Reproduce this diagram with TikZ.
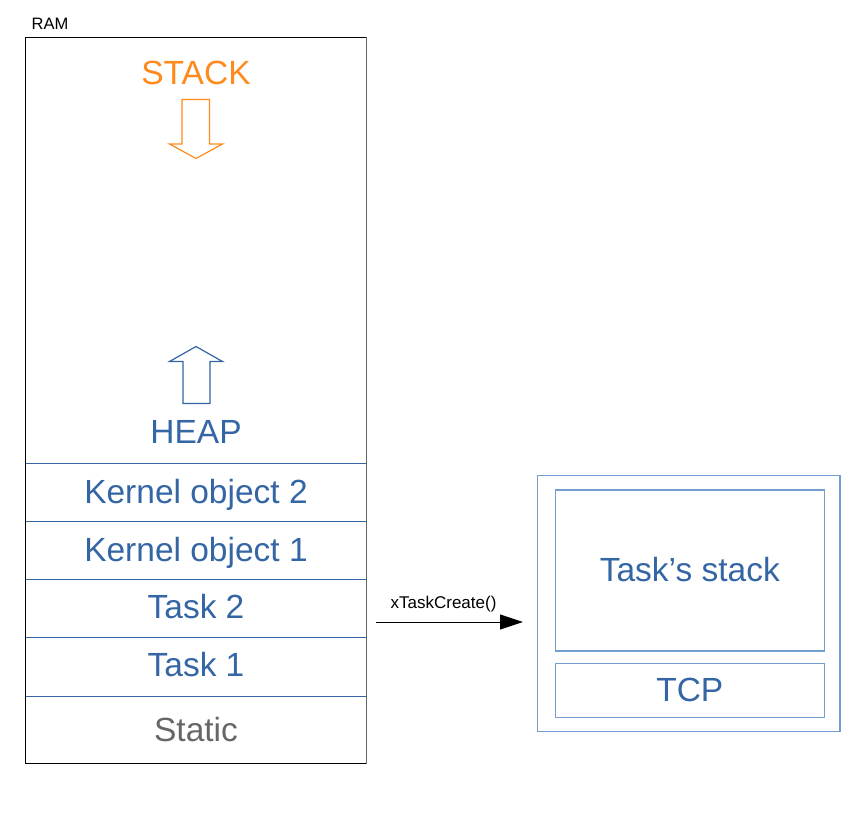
\documentclass[tikz,border=0pt]{standalone}
\usepackage{fontspec}
\setmainfont{Liberation Sans}
\usetikzlibrary{arrows.meta}
\definecolor{lblue}{HTML}{3465A4}
\definecolor{pblue}{HTML}{729FCF}
\definecolor{orng}{HTML}{FF8A1C}
\definecolor{sgray}{HTML}{666666}
\tikzset{
  big/.style={font=\fontsize{33.5}{40}\selectfont, inner sep=0pt, anchor=base},
  small/.style={font=\fontsize{17}{20}\selectfont, inner sep=0pt, anchor=base},
  divider/.style={draw=lblue, line width=1pt},
  outline/.style={draw=pblue, line width=1.2pt}
}
\begin{document}
\begin{tikzpicture}[x=1pt,y=-1pt]
\useasboundingbox (0,0) rectangle (865,813);
% RAM box
\node[small, font=\fontsize{16.5}{20}\selectfont] (ramlbl) at (50,29.3) {RAM};
\draw[line width=1pt, black] (25.5,763.5) -- (25.5,37.5) -- (366.5,37.5);
\draw[line width=1pt, black] (25.5,763.5) -- (366.5,763.5);
\draw[line width=1.2pt, black!60] (366.5,37.5) -- (366.5,763.5);
% dividers
\foreach \y in {463.5,521.5,579.5,637.5,696.5}
  \draw[divider] (25.5,\y) -- (366,\y);
% STACK
\node[big, text=orng] (stack) at (196,85) {STACK};
\draw[draw=orng, line width=1.2pt, fill=white] (182,99.5) -- (209.5,99.5) -- (209.5,144) -- (222.5,144) -- (196,158.5) -- (169.5,144) -- (182,144) -- cycle;
% HEAP
\draw[draw=lblue, line width=1.2pt, fill=white] (183,403.5) -- (210,403.5) -- (210,361.5) -- (222.5,361.5) -- (196,346.5) -- (169.5,361.5) -- (183,361.5) -- cycle;
\node[big, text=lblue] (heap) at (196,443.3) {HEAP};
% rows
\node[big, text=lblue] (ko2) at (196,503.3) {Kernel object 2};
\node[big, text=lblue] (ko1) at (196,561) {Kernel object 1};
\node[big, text=lblue] (t2) at (196,618.3) {Task 2};
\node[big, text=lblue] (t1) at (196,676.7) {Task 1};
\node[big, text=sgray] (static) at (196,741.7) {Static};
% right side
\draw[outline] (537.5,475.5) rectangle (840,731.5);
\node[outline, minimum width=269pt, minimum height=161pt, inner sep=0pt] (tstackbox) at (689.8,570.5) {};
\node[big, text=lblue] (tstack) at (689.8,581.7) {Task’s stack};
\node[outline, minimum width=269pt, minimum height=54pt, inner sep=0pt] (tcpbox) at (689.8,690.3) {};
\node[big, text=lblue] (tcp) at (689.8,701.7) {TCP};
% arrow
\coordinate (as) at (376,622);
\coordinate (ae) at (523,622);
\draw[line width=1pt, -{Triangle[length=23pt,width=15pt]}] (as) -- (ae);
\node[small] (xtc) at (443.5,608.3) {xTaskCreate()};
\end{tikzpicture}
\end{document}
